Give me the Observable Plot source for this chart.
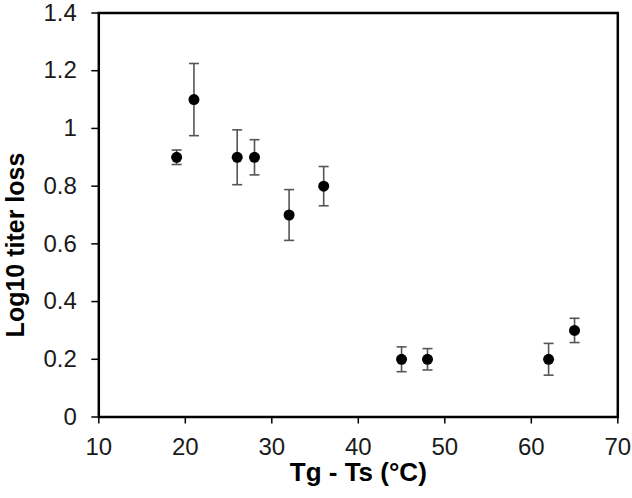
<!DOCTYPE html>
<html>
<head>
<meta charset="utf-8">
<script src="https://cdn.jsdelivr.net/npm/d3@7"></script>
<script src="https://cdn.jsdelivr.net/npm/@observablehq/plot@0.6"></script>
<style>
  html, body { margin: 0; padding: 0; background: white; }
</style>
</head>
<body>
<div id="chart"></div>
<script>
// Data
const tempDiff = [19, 21, 26, 28, 32, 36, 45, 48, 62, 65];
const titerLoss = [0.9, 1.1, 0.9, 0.9, 0.7, 0.8, 0.2, 0.2, 0.2, 0.3];
const errors = [0.025, 0.125, 0.095, 0.061, 0.088, 0.068, 0.043, 0.037, 0.055, 0.042];
const xTicks = [10, 20, 30, 40, 50, 60, 70];
const yTicks = [0, 0.2, 0.4, 0.6, 0.8, 1, 1.2, 1.4];
const xTitle = "Tg - Ts (°C)";
const yTitle = "Log10 titer loss";

const data = tempDiff.map((x, i) => ({x, y: titerLoss[i], e: errors[i]}));

const capSymbol = {
  draw(ctx) { ctx.moveTo(-5, 0); ctx.lineTo(5, 0); }
};

const chart = Plot.plot({
  width: 632,
  height: 498,
  marginLeft: 98.3,
  marginRight: 14.7,
  marginTop: 12.5,
  marginBottom: 81.5,
  style: {fontFamily: "'Liberation Sans', Arial, sans-serif", fontSize: "24px", color: "#1a1a1a", background: "white"},
  x: {domain: [10, 70]},
  y: {domain: [0, 1.4]},
  marks: [
    Plot.ruleX(data, {x: "x", y1: d => d.y - d.e, y2: d => d.y + d.e, stroke: "#555", strokeWidth: 1.6}),
    Plot.dot(data, {x: "x", y: d => d.y + d.e, symbol: capSymbol, stroke: "#555", strokeWidth: 1.6, r: 5}),
    Plot.dot(data, {x: "x", y: d => d.y - d.e, symbol: capSymbol, stroke: "#555", strokeWidth: 1.6, r: 5}),
    Plot.dot(data, {x: "x", y: "y", r: 5.5, fill: "black", stroke: null}),
    Plot.frame({stroke: "black", strokeWidth: 2.5}),
    Plot.axisX({ticks: xTicks, tickFormat: d => `${d}`, tickSize: 7, tickPadding: 14, fontSize: 24, label: null, stroke: "black", strokeWidth: 1.5}),
    Plot.axisY({ticks: yTicks, tickFormat: d => `${d}`, tickSize: 7, tickPadding: 15, fontSize: 24, label: null, stroke: "black", strokeWidth: 1.5}),
    Plot.text([xTitle], {frameAnchor: "bottom", dy: 56, lineAnchor: "middle", textAnchor: "middle", fontSize: 26, fontWeight: "bold", fill: "black"}),
    Plot.text([yTitle], {frameAnchor: "left", dx: -83, dy: 30, rotate: -90, lineAnchor: "middle", textAnchor: "middle", fontSize: 25, fontWeight: "bold", fill: "black"})
  ]
});
document.getElementById("chart").appendChild(chart);
</script>
</body>
</html>
